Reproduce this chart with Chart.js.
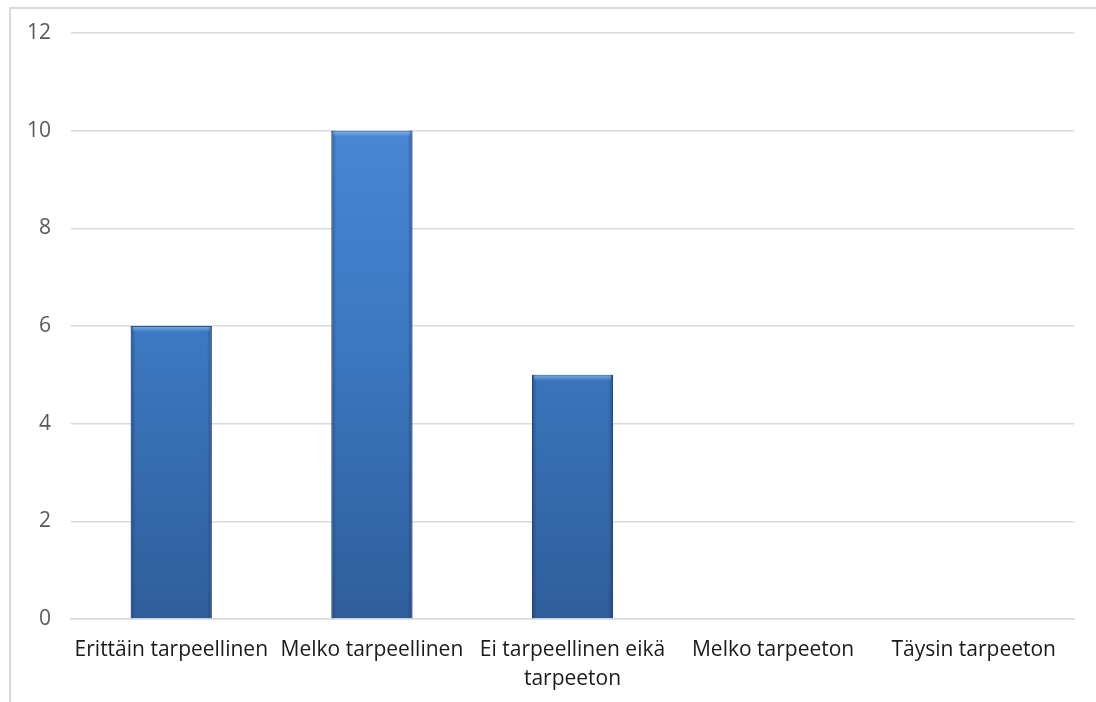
<!DOCTYPE html>
<html>
<head>
<meta charset="utf-8">
<script src="https://cdn.jsdelivr.net/npm/chart.js@4"></script>
<style>
  html, body { margin: 0; padding: 0; background: #fff; overflow: hidden; }
  #frame { position: absolute; left: 9px; top: 7px; width: 1200px; height: 800px; border: 2px solid #d9d9d9; }
  #wrap { position: absolute; left: 0; top: 0; width: 1096px; height: 702px; }
</style>
</head>
<body>
<div id="frame"></div>
<div id="wrap"><canvas id="chart" width="1096" height="702"></canvas></div>
<script>
const categories = [
  'Erittäin tarpeellinen',
  'Melko tarpeellinen',
  ['Ei tarpeellinen eikä', 'tarpeeton'],
  'Melko tarpeeton',
  'Täysin tarpeeton'
];
const counts = [6, 10, 5, 0, 0];
const yTicks = [0, 2, 4, 6, 8, 10, 12];

function barFill(context) {
  const chart = context.chart;
  const area = chart.chartArea;
  if (!area) return '#3c78c2';
  const g = chart.ctx.createLinearGradient(0, area.top, 0, area.bottom);
  g.addColorStop(0, '#4d8ddb');
  g.addColorStop(0.5, '#3d79c3');
  g.addColorStop(1, '#2f5e9c');
  return g;
}

// soft bevel on each bar: darker sides, lighter top edge
const bevel = {
  id: 'bevel',
  afterDatasetsDraw(chart) {
    const c = chart.ctx;
    chart.getDatasetMeta(0).data.forEach((bar) => {
      const p = bar.getProps(['x', 'y', 'base', 'width'], true);
      const h = p.base - p.y;
      if (h <= 0) return;
      const l = p.x - p.width / 2, r = p.x + p.width / 2;
      c.save();
      const side = c.createLinearGradient(l, 0, r, 0);
      side.addColorStop(0, 'rgba(20,50,100,0.45)');
      side.addColorStop(0.06, 'rgba(20,50,100,0)');
      side.addColorStop(0.94, 'rgba(20,50,100,0)');
      side.addColorStop(1, 'rgba(20,50,100,0.45)');
      c.fillStyle = side;
      c.fillRect(l, p.y, p.width, h);
      const top = c.createLinearGradient(0, p.y, 0, p.y + 6);
      top.addColorStop(0, 'rgba(150,200,250,0.7)');
      top.addColorStop(1, 'rgba(150,200,250,0)');
      c.fillStyle = top;
      c.fillRect(l + 2, p.y + 1, p.width - 4, 6);
      c.restore();
    });
  }
};

const ctx = document.getElementById('chart');

new Chart(ctx, {
  type: 'bar',
  data: {
    labels: categories,
    datasets: [{
      label: 'Vastaukset',
      data: counts,
      backgroundColor: barFill,
      borderColor: '#2b558f',
      borderWidth: 1,
      categoryPercentage: 0.8,
      barPercentage: 0.505
    }]
  },
  options: {
    responsive: false,
    animation: false,
    layout: { padding: { left: 0, right: 22, top: 33, bottom: 0 } },
    plugins: {
      legend: { display: false },
      tooltip: { enabled: false }
    },
    scales: {
      y: {
        min: 0,
        max: 12,
        afterBuildTicks: (axis) => { axis.ticks = yTicks.map(v => ({ value: v })); },
        afterFit: (axis) => { axis.width = 71; },
        border: { display: false },
        grid: { color: '#d9d9d9', lineWidth: 1.5, drawTicks: false },
        ticks: {
          padding: 20,
          color: '#595959',
          font: { family: 'Open Sans', size: 21 }
        }
      },
      x: {
        afterFit: (axis) => { axis.height = 83; },
        border: { color: '#d9d9d9', width: 1.5 },
        grid: { display: false, drawTicks: false },
        ticks: {
          padding: 17,
          maxRotation: 0,
          autoSkip: false,
          color: '#1a1a1a',
          font: { family: 'Open Sans', size: 21, lineHeight: 1.35 }
        }
      }
    }
  },
  plugins: [bevel]
});
</script>
</body>
</html>
